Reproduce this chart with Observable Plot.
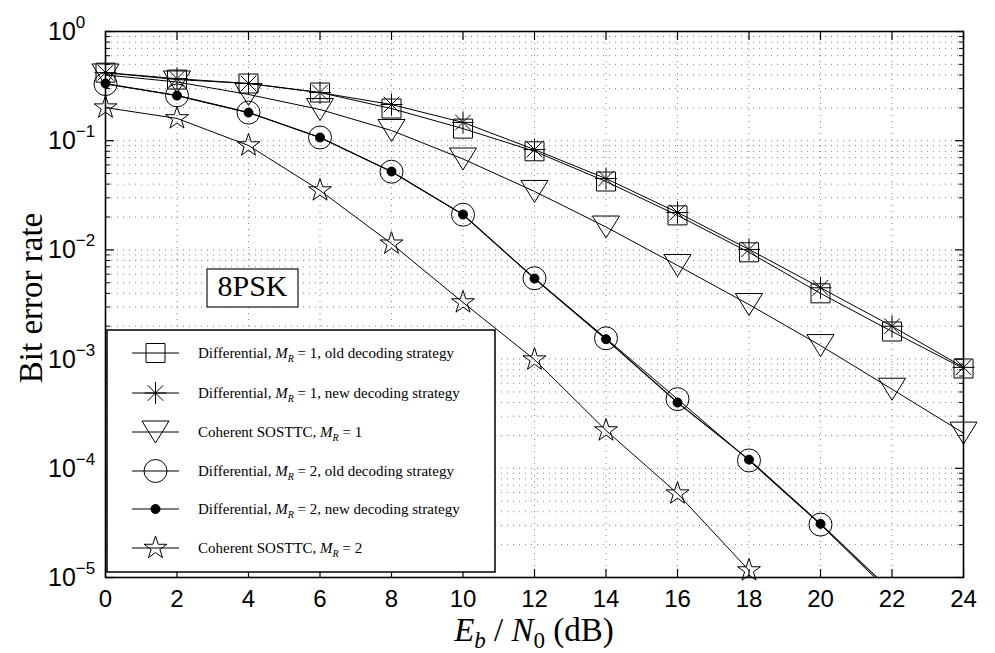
<!DOCTYPE html>
<html>
<head>
<meta charset="utf-8">
<script src="https://cdn.jsdelivr.net/npm/d3@7"></script>
<script src="https://cdn.jsdelivr.net/npm/@observablehq/plot@0.6"></script>
<style>
  html, body { margin: 0; padding: 0; background: #fff; }
  #chart svg { display: block; }
</style>
</head>
<body>
<div id="chart"></div>
<script>
// ---------- data ----------
const snr = [0, 2, 4, 6, 8, 10, 12, 14, 16, 18, 20, 22, 24];
const berDiffMR1Old = [0.42, 0.363, 0.334, 0.276, 0.197, 0.129, 0.080, 0.0423, 0.0207, 0.0095, 0.0040, 0.00179, 0.00082];
const berDiffMR1New = [0.42, 0.37, 0.334, 0.276, 0.2145, 0.147, 0.083, 0.045, 0.022, 0.0101, 0.0045, 0.0020, 0.00084];
const berCohMR1     = [0.40, 0.345, 0.265, 0.193, 0.124, 0.068, 0.0343, 0.0162, 0.0072, 0.00316, 0.00133, 0.00053, 0.00021];
const berDiffMR2Old = [0.33, 0.26, 0.181, 0.107, 0.052, 0.021, 0.0055, 0.00155, 0.00043, 0.000118, 3.05e-5, 7.0e-6];
const berDiffMR2New = [0.334, 0.259, 0.181, 0.107, 0.0522, 0.0211, 0.00547, 0.00152, 0.00040, 0.000120, 3.1e-5, 7.4e-6];
const berCohMR2     = [0.201, 0.16, 0.0904, 0.035, 0.0114, 0.0033, 0.00099, 0.000222, 5.87e-5, 1.16e-5];

const xTicks = [0, 2, 4, 6, 8, 10, 12, 14, 16, 18, 20, 22, 24];
const yTickExps = [0, -1, -2, -3, -4, -5];
const yMinorMultipliers = [2, 3, 4, 5, 6, 7, 8, 9];

const legendPrefix = ["Differential, ", "Differential, ", "Coherent SOSTTC, ", "Differential, ", "Differential, ", "Coherent SOSTTC, "];
const legendSuffix = ["= 1, old decoding strategy", "= 1, new decoding strategy", "= 1", "= 2, old decoding strategy", "= 2, new decoding strategy", "= 2"];
const annotationText = "8PSK";
const yTitle = "Bit error rate";

// ---------- symbols (MATLAB-like markers) ----------
const rad = s => Math.sqrt(s / Math.PI);
const symSquare = {draw(c, s) { const r = rad(s); c.moveTo(-r, -r); c.lineTo(r, -r); c.lineTo(r, r); c.lineTo(-r, r); c.closePath(); }};
const symAsterisk = {draw(c, s) { const r = rad(s), d = r * Math.SQRT1_2;
  c.moveTo(-r, 0); c.lineTo(r, 0); c.moveTo(0, -r); c.lineTo(0, r);
  c.moveTo(-d, -d); c.lineTo(d, d); c.moveTo(-d, d); c.lineTo(d, -d); }};
const symTriDown = {draw(c, s) { const r = rad(s), w = r * 1.23; c.moveTo(-w, -r); c.lineTo(w, -r); c.lineTo(0, r); c.closePath(); }};
const symCircle = {draw(c, s) { const r = rad(s); c.moveTo(r, 0); c.arc(0, 0, r, 0, 2 * Math.PI); c.closePath(); }};
const symStar = {draw(c, s) { const r = rad(s), ri = r * 0.382;
  for (let k = 0; k < 10; k++) { const a = -Math.PI / 2 + k * Math.PI / 5, rr = k % 2 ? ri : r;
    const px = rr * Math.cos(a), py = rr * Math.sin(a); if (k) c.lineTo(px, py); else c.moveTo(px, py); }
  c.closePath(); }};

const series = [
  {vals: berDiffMR1Old, symbol: symSquare,   r: 9.5, fill: "none",  sw: 1},
  {vals: berDiffMR1New, symbol: symAsterisk, r: 11,  fill: "none",  sw: 1},
  {vals: berCohMR1,     symbol: symTriDown,  r: 11,  fill: "none",  sw: 1},
  {vals: berDiffMR2Old, symbol: symCircle,   r: 11.5,fill: "none",  sw: 1},
  {vals: berDiffMR2New, symbol: symCircle,   r: 4.5, fill: "black", sw: 1.2},
  {vals: berCohMR2,     symbol: symStar,     r: 12,  fill: "none",  sw: 1}
];
series.forEach(s => s.data = s.vals.map((v, i) => ({x: snr[i], y: v})));

const yMajor = yTickExps.map(e => 10 ** e);
const yMinor = yTickExps.slice(1).flatMap(e => yMinorMultipliers.map(m => m * 10 ** e));
const yGrid = yMajor.concat(yMinor).filter(v => v > 1e-5 && v < 1);

const gridStyle = {stroke: "#777", strokeWidth: 0.9, strokeDasharray: "1,5"};

const marks = [
  Plot.ruleX(xTicks.filter(t => t > 0 && t < 24), gridStyle),
  Plot.ruleY(yGrid, gridStyle),
  // inward tick marks
  Plot.axisX({anchor: "bottom", ticks: xTicks, tickSize: -8, tickFormat: () => "", label: null, strokeWidth: 1.2}),
  Plot.axisX({anchor: "top", ticks: xTicks, tickSize: -8, tickFormat: () => "", label: null, strokeWidth: 1.2}),
  Plot.axisY({anchor: "left", ticks: yMajor, tickSize: -9, tickFormat: () => "", label: null, strokeWidth: 1.2}),
  Plot.axisY({anchor: "right", ticks: yMajor, tickSize: -9, tickFormat: () => "", label: null, strokeWidth: 1.2}),
  Plot.axisY({anchor: "left", ticks: yMinor, tickSize: -5, tickFormat: () => "", label: null, strokeWidth: 1}),
  Plot.axisY({anchor: "right", ticks: yMinor, tickSize: -5, tickFormat: () => "", label: null, strokeWidth: 1}),
  // x tick labels
  Plot.axisX({anchor: "bottom", ticks: xTicks, tickSize: 0, tickPadding: 12, label: null,
              fontSize: 24, fontFamily: "Liberation Sans, Arial, sans-serif", fill: "black"}),
];
for (const s of series) {
  marks.push(Plot.line(s.data, {x: "x", y: "y", stroke: "black", strokeWidth: s.sw, clip: true}));
}
for (const s of series) {
  marks.push(Plot.dot(s.data.filter(d => d.y >= 1e-5), {x: "x", y: "y", symbol: s.symbol, r: s.r,
    stroke: "black", strokeWidth: 1, fill: s.fill}));
}
marks.push(Plot.frame({stroke: "black", strokeWidth: 1.6}));

const svg = Plot.plot({
  width: 995, height: 653,
  marginLeft: 105, marginRight: 32, marginTop: 31, marginBottom: 76,
  style: {background: "white", color: "black", fontFamily: "Liberation Sans, Arial, sans-serif", overflow: "visible"},
  x: {type: "linear", domain: [0, 24]},
  y: {type: "log", domain: [1e-5, 1]},
  marks
});
document.getElementById("chart").appendChild(svg);

// ---------- annotations built on the plot's own scales ----------
const root = d3.select(svg);
const ys = svg.scale("y"), xs = svg.scale("x");

// y tick labels 10^k
const gy = root.append("g").attr("font-family", "Liberation Sans, Arial, sans-serif")
  .attr("fill", "black").attr("text-anchor", "start");
yTickExps.forEach(e => {
  const py = ys.apply(10 ** e);
  const t = gy.append("text").attr("x", 48).attr("y", py + 9).attr("font-size", 25).attr("text-anchor", "start");
  t.append("tspan").text("10");
  t.append("tspan").attr("font-size", 17).attr("dy", -12).text(e === 0 ? "0" : "\u2212" + (-e));
});

// axis titles
const serif = "Liberation Serif, Times New Roman, serif";
root.append("text").attr("transform", `translate(42,${(ys.apply(1) + ys.apply(1e-5)) / 2 - 6}) rotate(-90)`)
  .attr("text-anchor", "middle").attr("font-family", serif).attr("font-size", 33).attr("fill", "black").text(yTitle);

const xt = root.append("text").attr("x", (xs.apply(0) + xs.apply(24)) / 2).attr("y", 641)
  .attr("text-anchor", "middle").attr("font-family", serif).attr("font-size", 33).attr("fill", "black");
xt.append("tspan").attr("font-style", "italic").text("E");
xt.append("tspan").attr("font-style", "italic").attr("font-size", 23).attr("dy", 7).text("b");
xt.append("tspan").attr("dy", -7).text(" / ");
xt.append("tspan").attr("font-style", "italic").text("N");
xt.append("tspan").attr("font-size", 23).attr("dy", 7).text("0");
xt.append("tspan").attr("dy", -7).text(" (dB)");

// 8PSK box
const ann = root.append("g");
ann.append("rect").attr("x", 207).attr("y", 269).attr("width", 91).attr("height", 38)
  .attr("fill", "white").attr("stroke", "black").attr("stroke-width", 1.1);
ann.append("text").attr("x", 252.5).attr("y", 296).attr("text-anchor", "middle")
  .attr("font-family", serif).attr("font-size", 30).attr("fill", "black").text(annotationText);

// legend
const lg = root.append("g").attr("text-anchor", "start");
lg.append("rect").attr("x", 107).attr("y", 330).attr("width", 388).attr("height", 242)
  .attr("fill", "white").attr("stroke", "black").attr("stroke-width", 1.5);
const rowY = [353, 393, 432, 471, 509, 548];
series.forEach((s, i) => {
  const y = rowY[i];
  lg.append("line").attr("x1", 132).attr("x2", 179).attr("y1", y).attr("y2", y)
    .attr("stroke", "black").attr("stroke-width", s.sw);
  lg.append("path").attr("transform", `translate(155.5,${y})`)
    .attr("d", d3.symbol(s.symbol, s.r * s.r * Math.PI)())
    .attr("fill", s.fill).attr("stroke", "black").attr("stroke-width", 1);
  const t = lg.append("text").attr("x", 198).attr("y", y + 5).attr("font-family", serif)
    .attr("font-size", 15).attr("fill", "black").attr("text-anchor", "start");
  t.append("tspan").text(legendPrefix[i]);
  t.append("tspan").attr("font-style", "italic").text("M");
  t.append("tspan").attr("font-style", "italic").attr("font-size", 10).attr("dy", 4).text("R");
  t.append("tspan").attr("dy", -4).text(" " + legendSuffix[i]);
});
</script>
</body>
</html>
